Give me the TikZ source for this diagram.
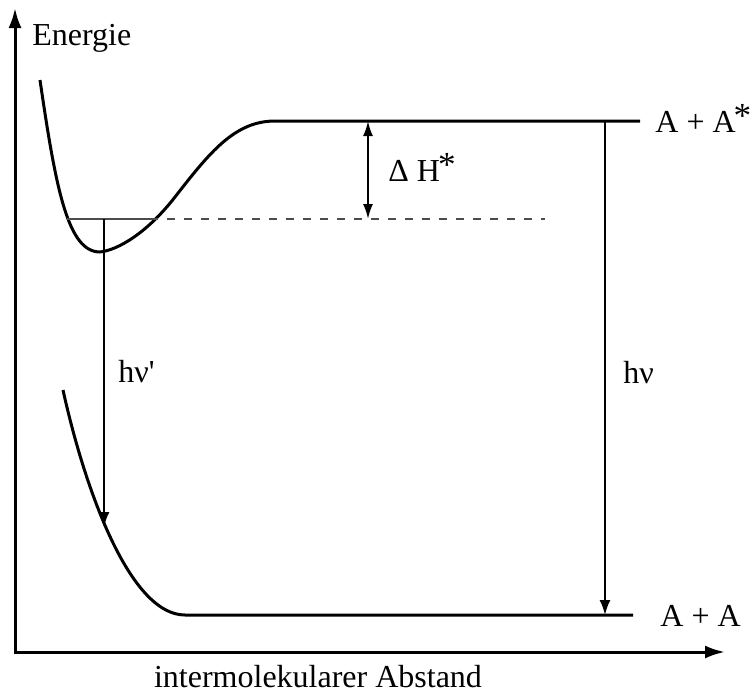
\documentclass[tikz,border=0pt]{standalone}
\usepackage{fontspec}
\setmainfont{Liberation Serif}
\usetikzlibrary{arrows.meta,positioning}

\newcommand{\excstar}{\kern-0.06em\raisebox{0.14em}{\scalebox{1.1}{*}}}

\begin{document}
\begin{tikzpicture}[
        x=0.5pt, y=-0.5pt,
        axis/.style={line width=1.5pt, {Latex[length=10pt,width=6.5pt]}-{Latex[length=10pt,width=6.5pt]}},
        curve/.style={line width=1.5pt, line join=round},
        trans/.style={line width=1pt, -{Latex[length=7.5pt,width=5.5pt]}},
        level/.style={line width=0.8pt, black!70},
        lbl/.style={inner sep=0pt, anchor=base west, font=\fontsize{16}{19}\selectfont}
    ]
        \useasboundingbox (0,0) rectangle (752,692);

        % axes
        \coordinate (ytop) at (15,8);
        \coordinate (orig) at (15,652);
        \coordinate (xend) at (725,652);
        \draw[axis] (ytop) -- (orig) -- (xend);
        \node[lbl] (energie) at (32,45) {Energie};
        \node[lbl, anchor=base] (abstand) at (318,687) {intermolekularer Abstand};

        % excimer curve
        \draw[curve] (40,80) .. controls (56,190) and (68,252) .. (100,252)
            .. controls (118,250) and (147,233) .. (175,197)
            .. controls (210,152) and (235,121) .. (275,121) -- (640,121) coordinate (upR);

        % ground state curve
        \draw[curve] (63,390) .. controls (85,490) and (130,615) .. (185,615) -- (633,615) coordinate (loR);

        % vibrational level
        \coordinate (vl) at (67,219);
        \coordinate (vr) at (150,219);
        \coordinate (dashend) at (545,219);
        \draw[level] (vl) -- (vr);
        \draw[level, dash pattern=on 4pt off 4.5pt] (vr) -- (dashend);

        % transitions
        \coordinate (emtop) at (104,219);
        \coordinate (emtip) at (104,527);
        \draw[trans] (emtop) -- (emtip);

        \coordinate (dhtop) at (368,121);
        \coordinate (dhbot) at (368,219);
        \draw[trans, {Latex[length=7.5pt,width=5pt]}-{Latex[length=7.5pt,width=5pt]}] (dhtop) -- (dhbot);

        \coordinate (abstop) at (605,121);
        \coordinate (absbot) at (605,615);
        \draw[trans] (abstop) -- (absbot);

        % labels
        \node[lbl] (exclbl) at (655,132) {A + A\excstar};
        \node[lbl] (gndlbl) at (660,626) {A + A};
        \node[lbl] (dhlbl) at (388,181) {Δ H\excstar};
        \node[lbl] (hvlbl) at (623,383) {hν};
        \node[lbl] (hvplbl) at (118,382) {hν\textquotesingle};
    \end{tikzpicture}
\end{document}
